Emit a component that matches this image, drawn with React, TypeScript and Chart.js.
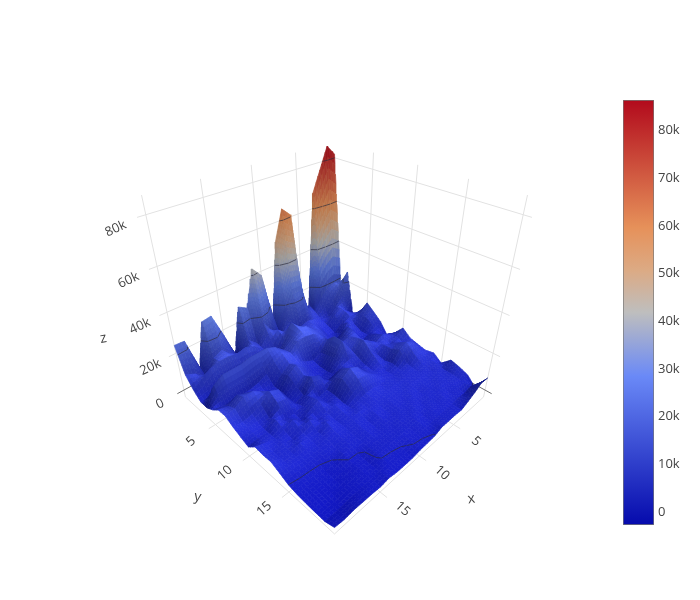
import React, { useEffect, useRef } from "react";
import { Chart, registerables } from "chart.js";

Chart.register(...registerables);

const row0 = [81.6,86,76.5,67,10,8,61,65,51,12,38,43,25,27.7,3.7,17.4,29.5,28.8,6.8,23.7,24];
const row1 = [17,19,18,14,8,12,24,24,16,6,10,17,8,12,4,9,14,12,4,9,11.2];
const row2 = [25.3,16,9,5,5,8,9,8,5,9,13,10,7,11,13,12,13,13,12,9,6];
const row3 = [1,6,10,8,4,5,9,8,12,17,10,4,2,3,3,2,2,2,2,2,2.3];
const row4 = [5.7,7,9,5,2,3,8,11,15,16,12,9,13,15,15,15,14,14,14,11,2.1];
const row5 = [13.3,9,5,8,4,2,5,10,13,14,14,10,12,10,6,4,3,3,3,3,4.2];
const row6 = [10,8,3,5,10,6,4,10,5,3,5,8,9,6,2,1.5,3,7,9,6,7.3];
const row7 = [6.5,5,3,2,9,9,8,14,6,2,2,6,11,8,2,3,8,11,11,8,7.3];
const row8 = [0.8,3,6,4,7,11,8,14,7,2,1.5,4,8,5,1.5,9,11,7,5,4,4.8];
const row9 = [4.4,6,8,6,9,12,6,6,5,3,2,8,10,3,1.5,7,8,3,2.5,3,2.8];
const row10 = [9.6,7,5,7,4,8,4,2.5,6,9,7,3,2,5,3,2,2,5,2,2,1];
const row11 = [6.2,5,8,7,3,5,3,5,10,12,9,3,2,6,4,1.5,5,3,2,3,4.6];
const row12 = [5,9,11,9,4,2.5,3,6,8,9,6,2,4,3,2,5,3,1.5,2.5,2,4];
const row13 = [4,6,7,4,3,2.5,3,3,4,4,3,2,3,2,4,2,2,3,2,2,4.2];
const row14 = [4.9,4,4,3,3,3,3,3,3,3,2.5,3,2.5,2,2.5,2,1.5,1.5,1.5,2,2.2];
const row15 = [1.6,4,3,3,3,3,2.5,2.5,2.5,2,2.5,1.5,2,1.5,1.5,1,1,0.5,0.3,0.2,0];
const row16 = [6,3,3,2.5,2.5,2,2.5,2,2,1.5,1.5,1,1.5,1,1,0.8,-0.5,-1,-1,-1,-1];
const row17 = [4.7,3,2.5,2.5,2,2,1.5,2,1.5,1.5,1,1,0.8,0.5,-0.5,-0.5,-1,-1.5,-1.5,-1.5,-1.5];
const row18 = [2.9,2,2,1.5,2,1.5,1.5,1,1.5,1,1,0.8,0.5,0.3,-0.8,-0.6,-1,-1.5,-2,-2,-1.8];
const row19 = [-1.7,2,1,1.5,1,1,1,0.8,0.8,0.4,0.3,-0.3,-0.5,-0.5,-0.8,-1,-1.2,-1.5,-2,-2.2,-2];
const row20 = [6.8,7.4,4.8,2.8,1,1.4,1.3,1.4,-0.2,-0.5,-0.7,-1.4,-1.4,-1.3,-0.5,-1.2,-0.8,-0.7,-0.5,-1,-0.5];
const surfaceK = [row0,row1,row2,row3,row4,row5,row6,row7,row8,row9,row10,row11,row12,row13,row14,row15,row16,row17,row18,row19,row20];

const xyTicks = [5, 10, 15];
const xyGrid = [5, 10, 15, 20];
const zTicks = [0, 20000, 40000, 60000, 80000];
const contourLevels = [0, 20, 40, 60, 80];
const colorStops: [number, number[]][] = [
  [0, [5, 10, 172]],
  [0.35, [106, 137, 247]],
  [0.5, [190, 190, 190]],
  [0.6, [220, 170, 132]],
  [0.7, [230, 145, 90]],
  [1, [178, 10, 28]],
];
const cMin = -2700;
const cMax = 86400;
const zLo = -4000;
const zHi = 87000;

const zMid = (zLo + zHi) / 2;
const zHalf = (zHi - zLo) / 2;
const S = 0.55, C = 0.835, L = 4.28, F = 509, CX = 334.5, CY = 309;

function project(x: number, y: number, zv: number) {
  const a = x / 10 - 1, b = y / 10 - 1, c = (zv - zMid) / zHalf;
  const X = (b - a) / Math.SQRT2;
  const Y = (-(a + b) * S) / Math.SQRT2 + C * c;
  const D = L - ((a + b) * C) / Math.SQRT2 - S * c;
  return { x: CX + (F * X) / D, y: CY - (F * Y) / D };
}

function colorAt(v: number): number[] {
  const t = Math.max(0, Math.min(1, (v - cMin) / (cMax - cMin)));
  for (let i = 1; i < colorStops.length; i++) {
    if (t <= colorStops[i][0]) {
      const [t0, c0] = colorStops[i - 1];
      const [t1, c1] = colorStops[i];
      const f = (t - t0) / (t1 - t0);
      return c0.map((q, k) => q + (c1[k] - q) * f);
    }
  }
  return colorStops[colorStops.length - 1][1];
}

const N = surfaceK.length;
function zAt(i: number, j: number) {
  return surfaceK[Math.max(0, Math.min(N - 1, j))][Math.max(0, Math.min(N - 1, i))] * 1000;
}
function lit(dzx: number, dzy: number) {
  const dx = dzx / zHalf / 0.1, dy = dzy / zHalf / 0.1;
  const len = Math.hypot(dx, dy, 1);
  return Math.max(0, (dx * 0.25 - dy * 0.25 + 0.935) / len);
}
function litAt(i: number, j: number) {
  return lit(
    (zAt(i + 1, j) - zAt(i - 1, j)) / (i > 0 && i < N - 1 ? 2 : 1),
    (zAt(i, j + 1) - zAt(i, j - 1)) / (j > 0 && j < N - 1 ? 2 : 1),
  );
}

function lineSet(pts: { x: number; y: number }[], color: string, width: number) {
  return { data: pts, showLine: true, borderColor: color, borderWidth: width, pointRadius: 0, fill: false, tension: 0 };
}

function buildDatasets() {
  const out: any[] = [];
  const grid = "rgb(226,226,226)";
  const zero = "rgb(110,110,110)";
  for (const t of xyGrid) {
    out.push(lineSet([project(t, 0, zLo), project(t, 0, zHi)], grid, 1));
    out.push(lineSet([project(0, t, zLo), project(0, t, zHi)], grid, 1));
    const ext = xyTicks.includes(t) ? 20.7 : 20;
    out.push(lineSet([project(t, ext, zLo), project(t, 0, zLo)], grid, 1));
    out.push(lineSet([project(ext, t, zLo), project(0, t, zLo)], grid, 1));
  }
  for (const t of zTicks) {
    const col = t === 0 ? zero : grid;
    out.push(lineSet([project(20.7, 0, t), project(0, 0, t), project(0, 20.7, t)], col, 1));
  }
  for (let j = 0; j < N - 1; j++) {
    for (let i = 0; i < N - 1; i++) {
      const z00 = zAt(i, j), z10 = zAt(i + 1, j), z01 = zAt(i, j + 1), z11 = zAt(i + 1, j + 1);
      const s00 = litAt(i, j), s10 = litAt(i + 1, j), s01 = litAt(i, j + 1), s11 = litAt(i + 1, j + 1);
      const bil = (u: number, v: number, p: number, q: number, r: number, w: number) =>
        p * (1 - u) * (1 - v) + q * u * (1 - v) + r * (1 - u) * v + w * u * v;
      const nu = Math.max(3, Math.min(14, Math.ceil(Math.max(Math.abs(z10 - z00), Math.abs(z11 - z01)) / 2500)));
      const nv = Math.max(3, Math.min(14, Math.ceil(Math.max(Math.abs(z01 - z00), Math.abs(z11 - z10)) / 2500)));
      for (let m = 0; m < nv; m++) {
        for (let n = 0; n < nu; n++) {
          const u0 = n / nu, u1 = (n + 1) / nu, v0 = m / nv, v1 = (m + 1) / nv;
          const corner = (u: number, v: number) => project(i + u, j + v, bil(u, v, z00, z10, z01, z11));
          const um = (u0 + u1) / 2, vm = (v0 + v1) / 2;
          const zv = bil(um, vm, z00, z10, z01, z11);
          const col = colorAt(zv);
          const facet = lit((1 - vm) * (z10 - z00) + vm * (z11 - z01), (1 - um) * (z01 - z00) + um * (z11 - z10));
          const d = 0.35 * bil(um, vm, s00, s10, s01, s11) + 0.65 * facet;
          const sh = 0.62 + 0.5 * d * d + 0.16 * Math.min(1, Math.max(0, zv) / 40000);
          const glow = 14 * d * d * d * d;
          const rgb = `rgb(${col.map((q) => Math.min(255, Math.round(q * sh + glow))).join(",")})`;
          const p0 = corner(u0, v0);
          out.push({
            data: [p0, corner(u1, v0), corner(u1, v1), corner(u0, v1), p0],
            showLine: true, fill: "shape", backgroundColor: rgb, borderColor: rgb, borderWidth: 0.7, pointRadius: 0, tension: 0,
          });
        }
      }
      for (const lk of contourLevels) {
        const lv = lk * 1000;
        const edges: { x: number; y: number }[] = [];
        const cross = (pa: number[], pb: number[], za: number, zb: number) => {
          if ((za < lv) !== (zb < lv)) {
            const f = (lv - za) / (zb - za);
            edges.push(project(pa[0] + (pb[0] - pa[0]) * f, pa[1] + (pb[1] - pa[1]) * f, lv));
          }
        };
        cross([i, j], [i + 1, j], z00, z10);
        cross([i + 1, j], [i + 1, j + 1], z10, z11);
        cross([i + 1, j + 1], [i, j + 1], z11, z01);
        cross([i, j + 1], [i, j], z01, z00);
        if (edges.length >= 2) out.push(lineSet([edges[0], edges[1]], "rgba(45,45,60,0.75)", 0.9));
        if (edges.length === 4) out.push(lineSet([edges[2], edges[3]], "rgba(45,45,60,0.75)", 0.9));
      }
    }
  }
  return out.reverse();
}

const tickLabel = (v: number) => (v === 0 ? "0" : `${v / 1000}k`);

const labelPlugin = {
  id: "axisLabels",
  afterDraw(chart: any) {
    const { ctx, scales } = chart;
    const put = (text: string, px: number, py: number, deg: number, size: number) => {
      ctx.save();
      ctx.translate(scales.x.getPixelForValue(px), scales.y.getPixelForValue(py));
      ctx.rotate((deg * Math.PI) / 180);
      ctx.font = `${size}px "Open Sans"`;
      ctx.fillStyle = "#444";
      ctx.textAlign = "center";
      ctx.textBaseline = "middle";
      ctx.fillText(text, 0, 0);
      ctx.restore();
    };
    for (const t of zTicks) {
      const p = project(20, 0, t);
      put(tickLabel(t), p.x - 24 - (t / 80000) * 6, p.y + 14, -25, 13);
    }
    for (const t of xyTicks) {
      const py = project(20, t, zLo);
      put(String(t), py.x - 24.5, py.y + 17, -42, 13);
      const px = project(t, 20, zLo);
      put(String(t), px.x + 22.5, px.y + 17, 42, 13);
    }
    const a = project(20, 0, 24000);
    put("z", a.x - 71, a.y - 7, -10, 14);
    const b = project(20, 10, zLo);
    put("y", b.x - 52, b.y + 41, 10, 14);
    const c = project(10, 20, zLo);
    put("x", c.x + 52, c.y + 43, -8, 14);
  },
};

export default function App() {
  const mainRef = useRef<HTMLCanvasElement>(null);
  const barRef = useRef<HTMLCanvasElement>(null);
  useEffect(() => {
    const main = new Chart(mainRef.current!, {
      type: "scatter",
      data: { datasets: buildDatasets() },
      plugins: [labelPlugin],
      options: {
        responsive: false,
        animation: false,
        events: [],
        layout: { padding: 0 },
        plugins: { legend: { display: false }, tooltip: { enabled: false } },
        scales: {
          x: { type: "linear", min: 0, max: 700, display: false },
          y: { type: "linear", min: 0, max: 600, reverse: true, display: false },
        },
      },
    } as any);
    const bar = new Chart(barRef.current!, {
      type: "bar",
      data: {
        labels: ["z"],
        datasets: [
          {
            data: [[cMin, cMax]],
            barPercentage: 1,
            categoryPercentage: 1,
            borderColor: "#777",
            borderWidth: 1,
            borderSkipped: false,
            backgroundColor: (ctx: any) => {
              const { chart } = ctx;
              const area = chart.chartArea;
              if (!area) return "#000";
              const g = chart.ctx.createLinearGradient(0, area.bottom, 0, area.top);
              colorStops.forEach(([t, c]) => g.addColorStop(t, `rgb(${c.join(",")})`));
              return g;
            },
          },
        ],
      } as any,
      options: {
        responsive: false,
        animation: false,
        events: [],
        layout: { padding: { top: 10, bottom: 10, left: 8, right: 0 } },
        plugins: { legend: { display: false }, tooltip: { enabled: false } },
        scales: {
          x: { display: false },
          y: {
            position: "right",
            min: cMin,
            max: cMax,
            afterFit: (s: any) => { s.width = 41; s.paddingTop = 0; s.paddingBottom = 0; },
            grid: { display: false, drawTicks: false, tickLength: 0 },
            border: { display: false },
            afterBuildTicks: (s: any) => { s.ticks = zTicks.flatMap((t) => (t < 80000 ? [t, t + 10000] : [t])).map((value) => ({ value })); },
            ticks: {
              padding: 4,
              color: "#444",
              font: { family: "Open Sans", size: 13 },
              callback: (v: any) => tickLabel(Number(v)),
            },
          },
        },
      },
    } as any);
    return () => { main.destroy(); bar.destroy(); };
  }, []);
  return (
    <div style={{ position: "absolute", left: 0, top: 0, width: 700, height: 600, overflow: "hidden", background: "#fff" }}>
      <canvas ref={mainRef} width={700} height={600} style={{ position: "absolute", left: 0, top: 0 }} />
      <canvas ref={barRef} width={80} height={445} style={{ position: "absolute", left: 615, top: 90 }} />
    </div>
  );
}
